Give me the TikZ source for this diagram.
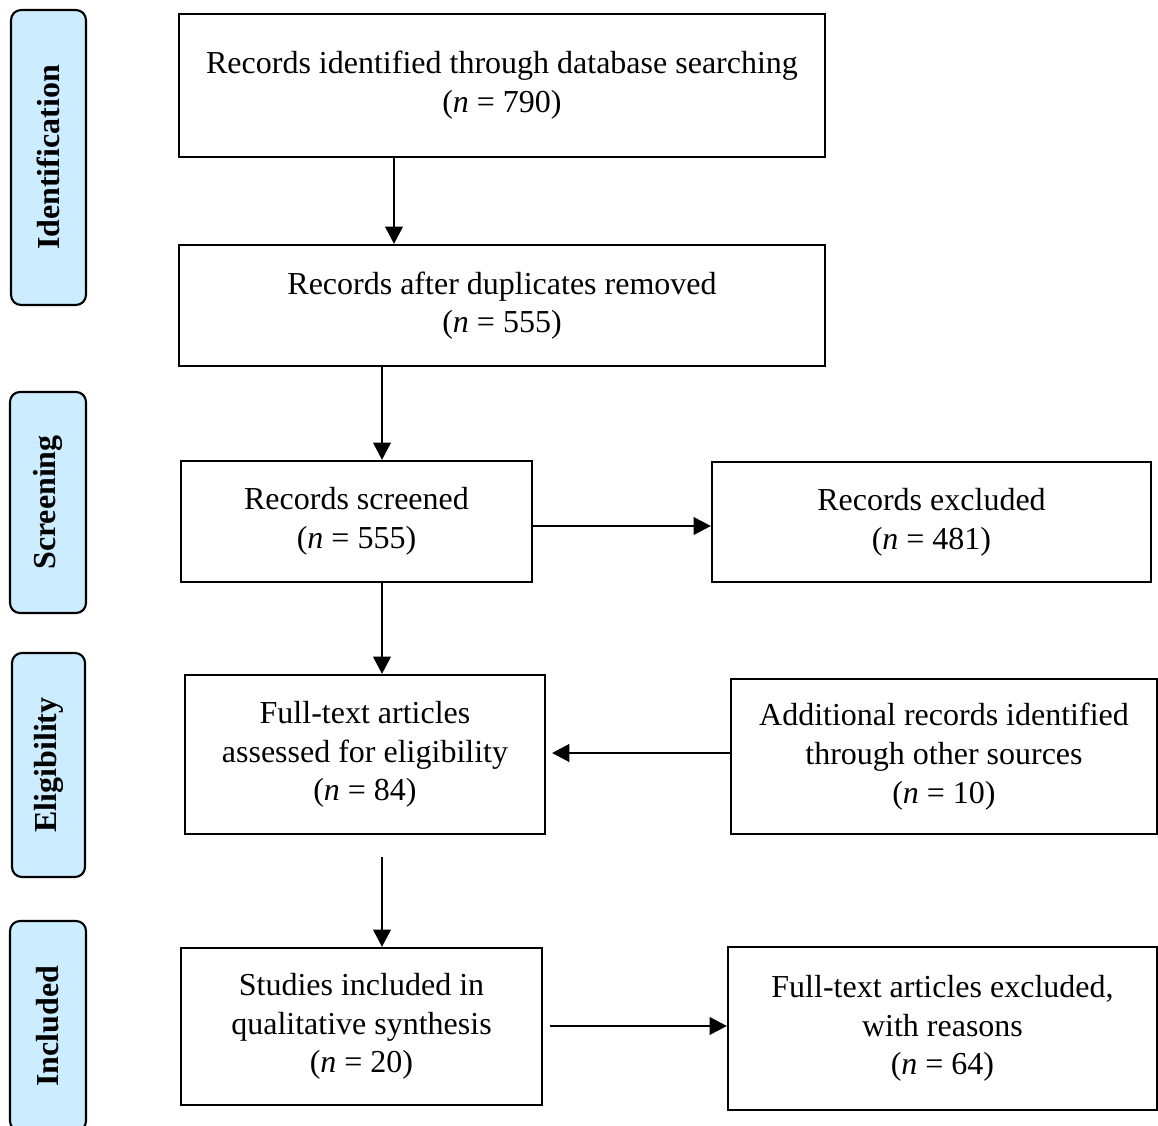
\documentclass[tikz,border=0pt]{standalone}
\usepackage{fontspec}
\setmainfont{Liberation Serif}
\usetikzlibrary{arrows.meta}
\definecolor{sideblue}{HTML}{CCECFF}
\begin{document}
\begin{tikzpicture}[x=0.375pt,y=-0.375pt,
  box/.style={draw=black, line width=0.8pt, align=center, inner sep=0pt,
    font=\fontsize{12}{14.5}\selectfont},
  side/.style={draw=black, line width=0.8pt, fill=sideblue, rounded corners=3.75pt,
    inner sep=0pt, rotate=90, font=\fontsize{12}{14.5}\selectfont\bfseries},
  arr/.style={line width=1.1pt, -{Triangle[length=6.5pt,width=6.5pt]}}]
\clip (0,0) rectangle (1158,1126);
\fill[white] (0,0) rectangle (1158,1126);

% phase labels
\node[side, minimum width=110.6pt, minimum height=28.1pt] (sid) at (48.5,157.5) {Identification};
\node[side, minimum width=82.9pt, minimum height=28.5pt] (sscr) at (48,502.5) {Screening};
\node[side, minimum width=84pt, minimum height=27.4pt] (selg) at (48.5,765) {Eligibility};
\node[side, minimum width=78.75pt, minimum height=28.5pt] (sinc) at (48,1026) {Included};

% boxes
\node[box, minimum width=242.25pt, minimum height=53.625pt] (B1) at (502,85.5)
  {\raisebox{3.9pt}{\begin{tabular}{@{}c@{}}Records identified through database searching\\(\textit{n} = 790)\end{tabular}}};
\node[box, minimum width=242.25pt, minimum height=45.375pt] (B2) at (502,305.5)
  {Records after duplicates removed\\(\textit{n} = 555)};
\node[box, minimum width=131.625pt, minimum height=45.375pt] (B3) at (356.5,521.5)
  {Records screened\\(\textit{n} = 555)};
\node[box, minimum width=164.625pt, minimum height=45pt] (Ex1) at (931.5,522)
  {Records excluded\\(\textit{n} = 481)};
\node[box, minimum width=135pt, minimum height=59.625pt] (B4) at (365,754.5)
  {Full-text articles\\assessed for eligibility\\(\textit{n} = 84)};
\node[box, minimum width=159.75pt, minimum height=58.125pt] (Add) at (944,756.5)
  {Additional records identified\\through other sources\\(\textit{n} = 10)};
\node[box, minimum width=135.375pt, minimum height=58.875pt] (B5) at (361.5,1026.5)
  {Studies included in\\qualitative synthesis\\(\textit{n} = 20)};
\node[box, minimum width=160.875pt, minimum height=61.125pt] (Ex2) at (942.5,1028.5)
  {Full-text articles excluded,\\with reasons\\(\textit{n} = 64)};

% connectors
\coordinate (a1) at (394,0);
\coordinate (a2) at (382,0);
\coordinate (a4) at (382,857);
\coordinate (a5) at (0,526);
\coordinate (a6) at (552,753);
\coordinate (a7) at (550,1026);
\draw[arr] (B1.south -| a1) -- (B2.north -| a1);
\draw[arr] (B2.south -| a2) -- (B3.north -| a2);
\draw[arr] (B3.south -| a2) -- (B4.north -| a2);
\draw[arr] (a4) -- (B5.north -| a4);
\draw[arr] (B3.east |- a5) -- (Ex1.west |- a5);
\draw[arr] (Add.west |- a6) -- (a6);
\draw[arr] (a7) -- (Ex2.west |- a7);
\end{tikzpicture}
\end{document}
